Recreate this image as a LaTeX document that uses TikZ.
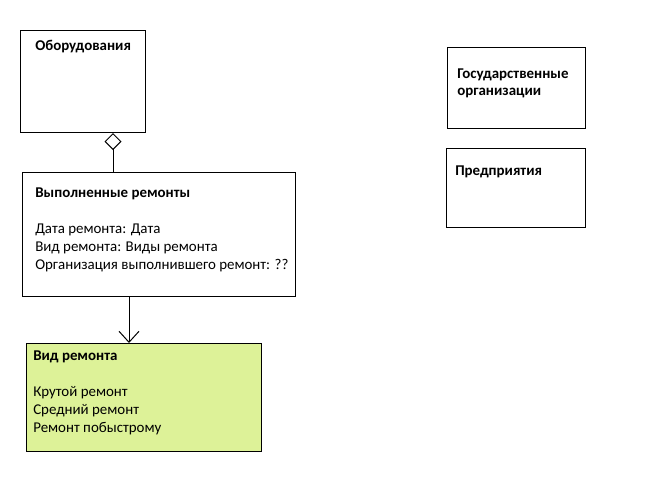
\documentclass[tikz,border=0pt]{standalone}
\usepackage{fontspec}
\setmainfont{Carlito}
\usetikzlibrary{arrows.meta}
\definecolor{boxgreen}{RGB}{221,242,152}
\tikzset{
  box/.style={draw=black, line width=0.75pt, rectangle, inner sep=0pt, anchor=north west},
  txt/.style={anchor=mid west, inner sep=0pt, font=\fontsize{11.2}{13.5}\selectfont},
  bold/.style={txt, font=\fontsize{11.2}{13.5}\selectfont\bfseries},
  conn/.style={draw=black, line width=0.75pt},
}
\begin{document}
\begin{tikzpicture}[x=0.75pt,y=-0.75pt]
\useasboundingbox (0,0) rectangle (656,490);
% boxes
\node[box, minimum width=125*0.75pt, minimum height=102*0.75pt] (obor) at (20,30) {};
\node[box, minimum width=273*0.75pt, minimum height=124*0.75pt] (vyp) at (22,172) {};
\node[box, fill=boxgreen, minimum width=235*0.75pt, minimum height=108*0.75pt] (vid) at (26,343) {};
\node[box, minimum width=138*0.75pt, minimum height=81*0.75pt] (gos) at (447,47) {};
\node[box, minimum width=139*0.75pt, minimum height=79*0.75pt] (pred) at (446,148) {};
% texts
\node[bold] (t1) at (35,47) {Оборудования};
\node[bold] (t2) at (35,194) {Выполненные ремонты};
\node[txt] (t3) at (35,230) {Дата ремонта: Дата};
\node[txt] (t4) at (35,248) {Вид ремонта: Виды ремонта};
\node[txt] (t5) at (35,266) {Организация выполнившего ремонт: ??};
\node[bold] (t6) at (33,357) {Вид ремонта};
\node[txt] (t7) at (33,393) {Крутой ремонт};
\node[txt] (t8) at (33,411) {Средний ремонт};
\node[txt] (t9) at (33,429) {Ремонт побыстрому};
\node[bold] (t10) at (457,75) {Государственные};
\node[bold] (t11) at (457,92) {организации};
\node[bold] (t12) at (455,172) {Предприятия};
% connectors
\coordinate (ax) at (113,0);
\coordinate (bx) at (129,0);
\draw[conn, -{Diamond[open, length=17*0.75pt, width=17*0.75pt, line width=0.75pt]}] (vyp.north -| ax) -- (obor.south -| ax);
\draw[conn, -{Straight Barb[length=11*0.75pt, width=20*0.75pt, line width=0.75pt]}] (vyp.south -| bx) -- (vid.north -| bx);
\end{tikzpicture}
\end{document}
